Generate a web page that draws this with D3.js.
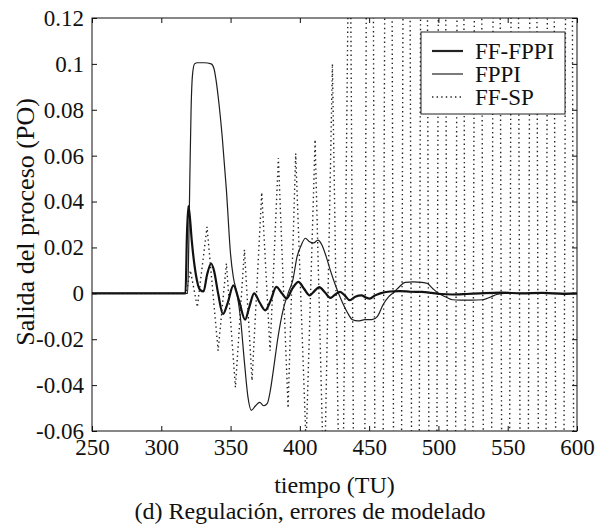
<!DOCTYPE html>
<html>
<head>
<meta charset="utf-8">
<script src="https://cdn.jsdelivr.net/npm/d3@7"></script>
<style>
  body { margin: 0; background: #fff; }
  #chart { width: 613px; height: 525px; }
  text { font-family: "Liberation Serif", "Times New Roman", serif; fill: #111; }
</style>
</head>
<body>
<div id="chart"></div>
<script>
// tiempo (TU) vs salida del proceso (PO)
const xTicks = [250, 300, 350, 400, 450, 500, 550, 600];
const yTicks = [-0.06, -0.04, -0.02, 0, 0.02, 0.04, 0.06, 0.08, 0.1, 0.12];
const yTickLabels = ['-0.06', '-0.04', '-0.02', '0', '0.02', '0.04', '0.06', '0.08', '0.1', '0.12'];
const seriesNames = ['FF-FPPI', 'FPPI', 'FF-SP'];

const ffFppi = [
  [250, 0], [280, 0], [300, 0], [312, 0], [316, 0], [317.5, 0], [318.5, 0.025], [319.5, 0.038],
  [320.5, 0.034], [322, 0.023], [325, 0.008],
  [328, 0.0015], [330.5, 0.0008], [333, 0.008], [336, 0.013], [338, 0.01], [341, 0.0],
  [344.5, -0.009], [348, -0.004], [352, 0.0035], [356, -0.003], [360.5, -0.0115], [363.5, -0.006],
  [367, 0.0], [371, -0.004], [375, -0.0074], [379, -0.003], [383, 0.0028], [387, 0.0],
  [390.5, -0.0023], [394.5, 0.002], [399, 0.005], [403, 0.002], [407, -0.0009], [410.5, 0.001],
  [414, 0.0027], [418, 0.0005], [422, -0.002], [425.5, -0.0005], [429, 0.0006], [432.5, -0.001],
  [436, -0.003], [440, -0.0015], [444.5, -0.0009], [447.5, -0.0018], [450.5, -0.0023], [454, -0.001],
  [458, 0], [465, 0.0008], [472, 0.001], [480, 0.0007], [488, 0.0006], [495, 0.0002], [502, -0.0003],
  [510, -0.0005], [520, -0.0003], [530, 0], [545, 0.0003], [560, 0], [575, 0.0002], [590, -0.0002], [600, 0]
];

const fppi = [
  [250, 0], [280, 0], [300, 0], [312, 0], [317, 0], [319, 0], [319.8, 0.02], [320.6, 0.05],
  [321.5, 0.08], [322.5, 0.095], [324, 0.1],
  [326, 0.1005], [331, 0.1005], [336, 0.1], [338, 0.098], [339.5, 0.093], [341, 0.086], [344, 0.068],
  [347, 0.045], [350, 0.017], [352, 0.007], [354.6, 0], [357, -0.01], [360, -0.03], [362.5, -0.045],
  [365, -0.051], [368, -0.049], [371, -0.0475], [374, -0.049], [376.5, -0.048], [378.5, -0.043],
  [381, -0.033], [384, -0.02], [388, -0.007], [391.5, 0.0], [395, 0.006], [398, 0.016], [401, 0.021],
  [404, 0.024], [407, 0.0225], [410, 0.022], [413, 0.0232], [416, 0.021], [419, 0.016], [422, 0.01],
  [426, 0.003], [430, -0.003], [434, -0.008], [438, -0.0115], [442, -0.012], [447, -0.0115],
  [452, -0.0115], [456, -0.01], [460, -0.005], [464, -0.0015], [468, 0.0005], [472, 0.003],
  [476, 0.0048], [482, 0.005], [488, 0.0048], [492, 0.0043], [496, 0.002], [500, 0], [505, -0.0015],
  [510, -0.0028], [516, -0.003], [524, -0.003], [532, -0.0028], [538, -0.0015], [542, -0.0005],
  [548, 0], [560, 0], [575, 0], [600, 0]
];

// turning points of the FF-SP trace; after ~440 it runs far past the axes
const ffSp = [
  [250, 0], [318, 0], [321, 0.01], [326, -0.006], [333, 0.029], [341, -0.025], [347, 0.013],
  [353.5, -0.041], [360, 0.019], [365.5, -0.038], [372.5, 0.044], [378.5, -0.025], [384.5, 0.059],
  [391.5, -0.05], [397, 0.061], [404.5, -0.066], [411, 0.067], [417.5, -0.09], [423.5, 0.1],
  [430, -0.15], [436, 0.2], [444, -0.6], [450.5, 0.6], [457, -0.6], [464, 0.6], [470.5, -0.6],
  [477, 0.6], [483.5, -0.6], [489.5, 0.6], [496, -0.6], [502.5, 0.6], [509.5, -0.6], [516, 0.6],
  [522, -0.6], [528.5, 0.6], [535.5, -0.6], [542, 0.6], [548.5, -0.6], [555, 0.6], [562, -0.6],
  [568.5, 0.6], [575, -0.6], [581, 0.6], [587.5, -0.6], [594.5, 0.6], [600, -0.6]
];

const container = d3.select('#chart');
const width = 613, height = 525;
const margin = { top: 18, right: 36, bottom: 94, left: 92 };
const w = width - margin.left - margin.right;
const h = height - margin.top - margin.bottom;

const svg = container.append('svg').attr('width', width).attr('height', height);
const g = svg.append('g').attr('transform', `translate(${margin.left},${margin.top})`);

const x = d3.scaleLinear().domain([250, 600]).range([0, w]);
const y = d3.scaleLinear().domain([-0.06, 0.12]).range([h, 0]);

svg.append('defs').append('clipPath').attr('id', 'plot-clip')
  .append('rect').attr('width', w).attr('height', h);

const smooth = d3.line().x(d => x(d[0])).y(d => y(d[1])).curve(d3.curveMonotoneX);
const straight = d3.line().x(d => x(d[0])).y(d => y(d[1]));
const lines = g.append('g').attr('clip-path', 'url(#plot-clip)');

lines.append('path').datum(fppi).attr('d', smooth)
  .attr('fill', 'none').attr('stroke', '#1e1e1e').attr('stroke-width', 1.2);
lines.append('path').datum(ffFppi).attr('d', smooth)
  .attr('fill', 'none').attr('stroke', '#111').attr('stroke-width', 2.2);
lines.append('path').datum(ffSp).attr('d', straight)
  .attr('fill', 'none').attr('stroke', '#222').attr('stroke-width', 1.4)
  .attr('stroke-dasharray', '1.4 3.2');

// axes, MATLAB style: ticks inward on all four sides
const tickFmt = d => yTickLabels[yTicks.indexOf(d)];
const xAxis = g.append('g').attr('transform', `translate(0,${h})`)
  .call(d3.axisBottom(x).tickValues(xTicks).tickSizeInner(-5).tickSizeOuter(0).tickPadding(8));
const yAxis = g.append('g')
  .call(d3.axisLeft(y).tickValues(yTicks).tickFormat(tickFmt).tickSizeInner(-5).tickSizeOuter(0).tickPadding(8));
g.append('g').call(d3.axisTop(x).tickValues(xTicks).tickFormat('').tickSizeInner(-5).tickSizeOuter(0));
g.append('g').attr('transform', `translate(${w},0)`)
  .call(d3.axisRight(y).tickValues(yTicks).tickFormat('').tickSizeInner(-5).tickSizeOuter(0));

g.selectAll('.domain').remove();
g.selectAll('.tick line').attr('stroke', '#111');
xAxis.selectAll('text').style('font-size', '23px');
yAxis.selectAll('text').style('font-size', '23px');

g.append('rect').attr('width', w).attr('height', h)
  .attr('fill', 'none').attr('stroke', '#111').attr('stroke-width', 1);

// legend
const leg = g.append('g').attr('transform', `translate(${421 - margin.left},${32 - margin.top})`);
leg.append('rect').attr('width', 144).attr('height', 82)
  .attr('fill', '#fff').attr('stroke', '#222').attr('stroke-width', 1);
const legStyles = [
  { sw: 2.2, dash: null },
  { sw: 1.2, dash: null },
  { sw: 1.4, dash: '1.4 3.2' }
];
seriesNames.forEach((name, i) => {
  const cy = 19 + i * 23;
  leg.append('line').attr('x1', 11).attr('x2', 42).attr('y1', cy).attr('y2', cy)
    .attr('stroke', '#222').attr('stroke-width', legStyles[i].sw)
    .attr('stroke-dasharray', legStyles[i].dash);
  leg.append('text').attr('x', 54).attr('y', cy).attr('dy', '0.34em')
    .style('font-size', '23px').text(name);
});

// titles
g.append('text').attr('x', w / 2).attr('y', h + 62).attr('text-anchor', 'middle')
  .style('font-size', '24px').text('tiempo (TU)');
svg.append('text').attr('x', 310).attr('y', 519).attr('text-anchor', 'middle')
  .style('font-size', '24px').text('(d) Regulación, errores de modelado');
svg.append('text').attr('transform', 'translate(34,222) rotate(-90)').attr('text-anchor', 'middle')
  .style('font-size', '26px').text('Salida del proceso (PO)');
</script>
</body>
</html>
